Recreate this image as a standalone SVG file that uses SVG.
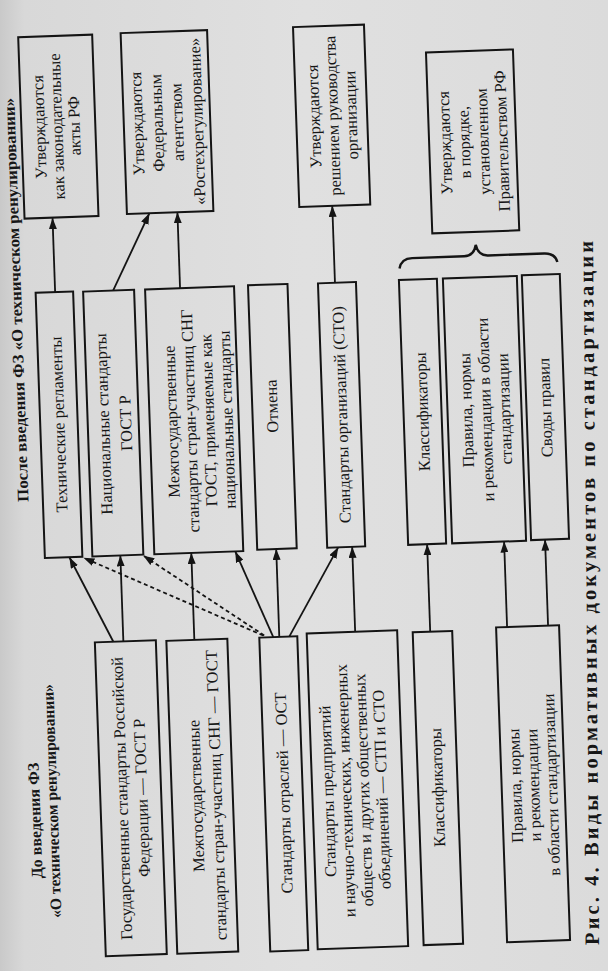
<svg xmlns="http://www.w3.org/2000/svg" width="608" height="971" viewBox="0 0 608 971">
<defs>
<linearGradient id="bg" x1="0" y1="0" x2="1" y2="0">
<stop offset="0" stop-color="#c9c9c9"/>
<stop offset="0.04" stop-color="#d8d8d8"/>
<stop offset="0.5" stop-color="#e0e0e0"/>
<stop offset="1" stop-color="#dbdbdb"/>
</linearGradient>
<marker id="ah" markerWidth="11" markerHeight="8" refX="11" refY="4" orient="auto" markerUnits="userSpaceOnUse">
<path d="M0,0 L11,4 L0,8 z" fill="#141414"/>
</marker>
<style>
.box{fill:none;stroke:#141414;stroke-width:2}
.t{font-family:"Liberation Serif","Times New Roman",serif;font-size:16.5px;fill:#161616;text-anchor:middle;dominant-baseline:central}
.h{font-weight:bold;font-size:16px}
.c{stroke:#141414;stroke-width:1.8;fill:none;marker-end:url(#ah)}
.d{stroke-dasharray:4 3}
.br{stroke:#141414;stroke-width:2.4;fill:none}
</style>
</defs>
<rect x="0" y="0" width="608" height="971" fill="url(#bg)"/>
<g id="caption">
<text class="t h" style="font-size:20.5px" transform="translate(589 593) rotate(-90.5)" textLength="704" lengthAdjust="spacing">Рис. 4. Виды нормативных документов по стандартизации</text>
</g>
<g transform="rotate(-2 304 485)">
<g id="heading-after">
<text class="t h" transform="translate(22.5 290) rotate(-90)" textLength="404" lengthAdjust="spacingAndGlyphs">После введения ФЗ «О техническом ренулировании»</text>
</g>
<g id="heading-before">
<text class="t h" transform="translate(23.5 811) rotate(-90)">До введения ФЗ</text>
<text class="t h" transform="translate(41 792) rotate(-90)" textLength="234" lengthAdjust="spacingAndGlyphs">«О техническом ренулировании»</text>
</g>

<g id="connectors">
<line class="c" x1="62" y1="283.5" x2="62" y2="209.5"/>
<line class="c" x1="120" y1="284" x2="159" y2="208"/>
<line class="c" x1="187" y1="284" x2="187" y2="208"/>
<line class="c" x1="342" y1="284" x2="342" y2="207"/>
<line class="c" x1="108" y1="635" x2="67" y2="549"/>
<line class="c" x1="118" y1="635" x2="118" y2="549"/>
<line class="c" x1="189" y1="636" x2="189" y2="549"/>
<line class="c d" x1="258" y1="634" x2="81" y2="550"/>
<line class="c d" x1="259" y1="634" x2="141" y2="550"/>
<line class="c" x1="268" y1="636" x2="233" y2="549"/>
<line class="c" x1="274" y1="636" x2="274" y2="548"/>
<line class="c" x1="284" y1="636" x2="336" y2="548.5"/>
<line class="c" x1="350" y1="633.5" x2="350" y2="548.5"/>
<line class="c" x1="425" y1="636" x2="425" y2="548.5"/>
<line class="c" x1="502" y1="634" x2="502" y2="548.5"/>
<line class="c" x1="543" y1="634" x2="543" y2="548"/>
<path class="br" d="M407,272 Q409,262 420,262 L472,262 Q482,262 484,251 Q486,262 496,262 L552,262 Q563,262 565,271"/>
</g>

<g id="r1">
<rect class="box" x="34" y="27.5" width="74" height="181.5"/>
<text class="t" transform="translate(52 118) rotate(-90)">Утверждаются</text>
<text class="t" transform="translate(69.5 118) rotate(-90)">как законодательные</text>
<text class="t" transform="translate(87 118) rotate(-90)">акты РФ</text>
</g>
<g id="r2">
<rect class="box" x="136.5" y="27" width="86.5" height="181"/>
<text class="t" transform="translate(150 118) rotate(-90)">Утверждаются</text>
<text class="t" transform="translate(170 118) rotate(-90)">Федеральным</text>
<text class="t" transform="translate(190 118) rotate(-90)">агентством</text>
<text class="t" transform="translate(210 118) rotate(-90)">«Ростехрегулирование»</text>
</g>
<g id="r3">
<rect class="box" x="309" y="27" width="71" height="180"/>
<text class="t" transform="translate(327 117) rotate(-90)">Утверждаются</text>
<text class="t" transform="translate(345.5 117) rotate(-90)">решением руководства</text>
<text class="t" transform="translate(364 117) rotate(-90)">организации</text>
</g>
<g id="r4">
<rect class="box" x="441" y="57" width="87" height="181"/>
<text class="t" transform="translate(457 148) rotate(-90)">Утверждаются</text>
<text class="t" transform="translate(476 148) rotate(-90)">в порядке,</text>
<text class="t" transform="translate(495 148) rotate(-90)">установленном</text>
<text class="t" transform="translate(514 148) rotate(-90)">Правительством РФ</text>
</g>

<g id="m1">
<rect class="box" x="42.5" y="283.5" width="37.5" height="265.5"/>
<text class="t" transform="translate(61.2 416) rotate(-90)">Технические регламенты</text>
</g>
<g id="m2">
<rect class="box" x="90" y="284" width="51" height="265"/>
<text class="t" transform="translate(106 417) rotate(-90)">Национальные стандарты</text>
<text class="t" transform="translate(128 417) rotate(-90)">ГОСТ Р</text>
</g>
<g id="m3">
<rect class="box" x="152" y="284" width="89" height="265"/>
<text class="t" transform="translate(174 417) rotate(-90)">Межгосударственные</text>
<text class="t" transform="translate(192.5 417) rotate(-90)">стандарты стран-участниц СНГ</text>
<text class="t" transform="translate(211 417) rotate(-90)">ГОСТ, применяемые как</text>
<text class="t" transform="translate(229.5 417) rotate(-90)">национальные стандарты</text>
</g>
<g id="m4">
<rect class="box" x="255" y="283.5" width="39.5" height="264.5"/>
<text class="t" transform="translate(274.7 405) rotate(-90)">Отмена</text>
</g>
<g id="m5">
<rect class="box" x="325" y="284" width="38" height="264.5"/>
<text class="t" transform="translate(344 416) rotate(-90)">Стандарты организаций (СТО)</text>
</g>
<g id="m6">
<rect class="box" x="406" y="283.5" width="38" height="265"/>
<text class="t" transform="translate(425 416) rotate(-90)">Классификаторы</text>
</g>
<g id="m7">
<rect class="box" x="450" y="283.5" width="74" height="265"/>
<text class="t" transform="translate(469 416) rotate(-90)">Правила, нормы</text>
<text class="t" transform="translate(488 416) rotate(-90)">и рекомендации в области</text>
<text class="t" transform="translate(507 416) rotate(-90)">стандартизации</text>
</g>
<g id="m8">
<rect class="box" x="529" y="283" width="38" height="265"/>
<text class="t" transform="translate(548 416) rotate(-90)">Своды правил</text>
</g>

<g id="l1">
<rect class="box" x="89.5" y="635" width="61" height="314"/>
<text class="t" transform="translate(111 792) rotate(-90)">Государственные стандарты Российской</text>
<text class="t" transform="translate(131 792) rotate(-90)">Федерации — ГОСТ Р</text>
</g>
<g id="l2">
<rect class="box" x="161" y="636" width="61" height="313"/>
<text class="t" transform="translate(185.5 792) rotate(-90)">Межгосударственные</text>
<text class="t" transform="translate(205.5 792) rotate(-90)">стандарты стран-участниц СНГ — ГОСТ</text>
</g>
<g id="l3">
<rect class="box" x="254" y="636" width="38" height="314"/>
<text class="t" transform="translate(273 792) rotate(-90)">Стандарты отраслей — ОСТ</text>
</g>
<g id="l4">
<rect class="box" x="301.5" y="633.5" width="90.5" height="316"/>
<text class="t" transform="translate(317 792) rotate(-90)">Стандарты предприятий</text>
<text class="t" transform="translate(335 792) rotate(-90)">и научно-технических, инженерных</text>
<text class="t" transform="translate(353 792) rotate(-90)">обществ и других общественных</text>
<text class="t" transform="translate(371 792) rotate(-90)">объединений — СТП и СТО</text>
</g>
<g id="l5">
<rect class="box" x="407.5" y="636" width="39.5" height="313"/>
<text class="t" transform="translate(427 792) rotate(-90)">Классификаторы</text>
</g>
<g id="l6">
<rect class="box" x="491" y="634" width="63" height="315"/>
<text class="t" transform="translate(505 793) rotate(-90)">Правила, нормы</text>
<text class="t" transform="translate(523 793) rotate(-90)">и рекомендации</text>
<text class="t" transform="translate(541 793) rotate(-90)">в области стандартизации</text>
</g>
</g>
</svg>
